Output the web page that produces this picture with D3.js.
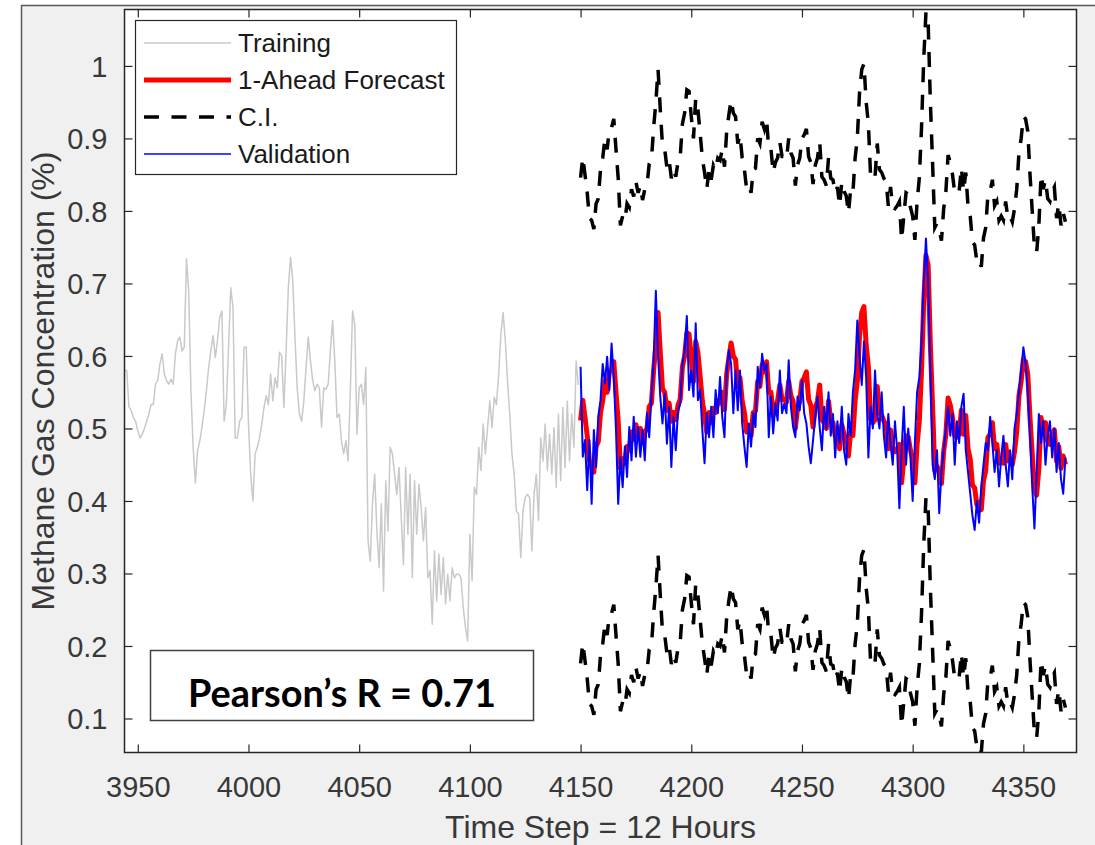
<!DOCTYPE html>
<html>
<head>
<meta charset="utf-8">
<script src="https://cdn.jsdelivr.net/npm/d3@7/dist/d3.min.js"></script>
<style>
  body { margin: 0; background: #ffffff; }
  svg text { font-family: "Liberation Sans", Arial, Helvetica, sans-serif; }
</style>
</head>
<body>
<svg id="chart" width="1095" height="845"></svg>
<script>
// ---- data -------------------------------------------------------------
// Training record, one value per 12-hour step starting at step 3944
const trainingStart = 3944;
const training = [
  0.58, 0.58, 0.53, 0.525, 0.515, 0.51, 0.497, 0.487, 0.492, 0.50,
  0.51, 0.52, 0.533, 0.533, 0.561, 0.566, 0.589, 0.603, 0.575, 0.566,
  0.561, 0.568, 0.561, 0.603, 0.621, 0.626, 0.607, 0.612, 0.734, 0.69,
  0.552, 0.474, 0.425, 0.469, 0.483, 0.502, 0.525, 0.552, 0.584, 0.607,
  0.628, 0.598, 0.621, 0.653, 0.662, 0.51, 0.533, 0.612, 0.694, 0.667,
  0.487, 0.487, 0.51, 0.515, 0.612, 0.612, 0.506, 0.437, 0.40, 0.465,
  0.474, 0.487, 0.506, 0.529, 0.545, 0.533, 0.575, 0.538, 0.570, 0.556,
  0.605, 0.600, 0.529, 0.607, 0.694, 0.736, 0.704, 0.626, 0.556, 0.52,
  0.51, 0.538, 0.584, 0.626, 0.593, 0.566, 0.552, 0.561, 0.556, 0.502,
  0.556, 0.554, 0.561, 0.607, 0.649, 0.593, 0.515, 0.52, 0.483, 0.465,
  0.483, 0.455, 0.552, 0.662, 0.644, 0.492, 0.556, 0.561, 0.533, 0.584,
  0.345, 0.317, 0.396, 0.437, 0.359, 0.308, 0.396, 0.276, 0.428, 0.359,
  0.474, 0.465, 0.437, 0.409, 0.446, 0.377, 0.312, 0.446, 0.354, 0.437,
  0.294, 0.428, 0.354, 0.423, 0.391, 0.345, 0.391, 0.294, 0.304, 0.23,
  0.331, 0.262, 0.327, 0.271, 0.322, 0.258, 0.299, 0.262, 0.308, 0.294,
  0.299, 0.299, 0.294, 0.253, 0.226, 0.207, 0.354, 0.29, 0.419, 0.409,
  0.474, 0.442, 0.506, 0.465, 0.501, 0.538, 0.501, 0.543, 0.533, 0.575,
  0.63, 0.66, 0.621, 0.566, 0.52, 0.465, 0.437, 0.386, 0.382, 0.322,
  0.386, 0.405, 0.409, 0.405, 0.331, 0.409, 0.437, 0.373, 0.487, 0.455,
  0.506, 0.442, 0.492, 0.437, 0.501, 0.419, 0.52, 0.428, 0.529, 0.446,
  0.538, 0.455, 0.52, 0.474, 0.593, 0.56
];

// Held-out record and the one-step-ahead forecast, starting at step 4150
const validationStart = 4150;
const validation = [
  0.585, 0.461, 0.484, 0.415, 0.484, 0.396, 0.498, 0.447, 0.516, 0.539,
  0.589, 0.562, 0.599, 0.553, 0.617, 0.571, 0.498, 0.396, 0.461, 0.419,
  0.475, 0.433, 0.502, 0.456, 0.516, 0.461, 0.502, 0.461, 0.498, 0.456,
  0.521, 0.488, 0.544, 0.594, 0.69, 0.60, 0.544, 0.507, 0.548, 0.479,
  0.53, 0.447, 0.516, 0.47, 0.525, 0.534, 0.589, 0.608, 0.655, 0.553,
  0.58, 0.544, 0.645, 0.539, 0.553, 0.498, 0.452, 0.521, 0.488, 0.53,
  0.488, 0.553, 0.521, 0.571, 0.516, 0.488, 0.58, 0.608, 0.589, 0.521,
  0.58, 0.525, 0.58, 0.507, 0.475, 0.447, 0.507, 0.475, 0.521, 0.502,
  0.585, 0.557, 0.603, 0.58, 0.589, 0.488, 0.544, 0.493, 0.534, 0.511,
  0.58, 0.521, 0.534, 0.521, 0.594, 0.53, 0.502, 0.488, 0.544, 0.525,
  0.566, 0.521, 0.507, 0.475, 0.452, 0.484, 0.516, 0.544, 0.502,
  0.47, 0.53, 0.5, 0.55, 0.49, 0.52, 0.46, 0.51, 0.48, 0.53,
  0.47, 0.45, 0.52, 0.49, 0.55, 0.58, 0.649, 0.6, 0.56, 0.62,
  0.57, 0.46, 0.53, 0.5, 0.58, 0.52, 0.50, 0.55, 0.49, 0.46,
  0.52, 0.48, 0.45, 0.51, 0.47, 0.39, 0.47, 0.53, 0.45, 0.5,
  0.46, 0.40, 0.48, 0.55, 0.57, 0.62, 0.70, 0.762, 0.70, 0.58,
  0.45, 0.43, 0.47, 0.383, 0.44, 0.47, 0.50, 0.53, 0.49, 0.52,
  0.45, 0.51, 0.48, 0.53, 0.548, 0.47, 0.44, 0.41, 0.38, 0.36,
  0.40, 0.37, 0.42, 0.45, 0.48, 0.47, 0.516, 0.48, 0.44, 0.47,
  0.42, 0.46, 0.49, 0.45, 0.42, 0.47, 0.43, 0.5, 0.52, 0.55,
  0.58, 0.612, 0.59, 0.55, 0.49, 0.42, 0.362, 0.44, 0.52, 0.48,
  0.51, 0.45, 0.49, 0.51, 0.46, 0.5, 0.44, 0.48, 0.43, 0.41,
  0.46
];
const forecast = [
  0.511, 0.539, 0.515, 0.49, 0.455, 0.452, 0.44, 0.475, 0.482, 0.522,
  0.538, 0.565, 0.55, 0.578, 0.58, 0.592, 0.55, 0.51, 0.445, 0.458,
  0.452, 0.475, 0.47, 0.495, 0.485, 0.505, 0.49, 0.5, 0.48, 0.495,
  0.5, 0.53, 0.535, 0.58, 0.615, 0.66, 0.605, 0.555, 0.55, 0.525,
  0.535, 0.51, 0.522, 0.512, 0.532, 0.54, 0.585, 0.6, 0.632, 0.63,
  0.595, 0.565, 0.62, 0.605, 0.572, 0.538, 0.518, 0.495, 0.522, 0.508,
  0.528, 0.522, 0.538, 0.535, 0.55, 0.526, 0.575, 0.598, 0.618, 0.6,
  0.595, 0.558, 0.57, 0.538, 0.522, 0.495, 0.5, 0.49, 0.522, 0.524,
  0.565, 0.558, 0.588, 0.578, 0.592, 0.55, 0.55, 0.518, 0.532, 0.538,
  0.56, 0.54, 0.54, 0.536, 0.565, 0.545, 0.538, 0.5, 0.528, 0.538,
  0.565, 0.57, 0.578, 0.54, 0.532, 0.502, 0.528, 0.538, 0.56,
  0.512, 0.508, 0.5, 0.538, 0.51, 0.508, 0.49, 0.498, 0.472, 0.505,
  0.492, 0.486, 0.462, 0.495, 0.49, 0.538, 0.565, 0.628, 0.66, 0.668,
  0.615, 0.585, 0.512, 0.508, 0.512, 0.558, 0.522, 0.518, 0.51, 0.506,
  0.472, 0.498, 0.47, 0.468, 0.472, 0.478, 0.425, 0.458, 0.49, 0.488,
  0.47, 0.458, 0.425, 0.478, 0.51, 0.58, 0.675, 0.739, 0.725, 0.615,
  0.53, 0.442, 0.448, 0.44, 0.424, 0.468, 0.492, 0.542, 0.532, 0.515,
  0.49, 0.488, 0.492, 0.525, 0.492, 0.518, 0.472, 0.458, 0.422, 0.418,
  0.395, 0.398, 0.388, 0.428, 0.442, 0.488, 0.492, 0.508, 0.472, 0.478,
  0.452, 0.458, 0.452, 0.478, 0.455, 0.458, 0.45, 0.468, 0.495, 0.545,
  0.565, 0.595, 0.592, 0.575, 0.515, 0.465, 0.415, 0.408, 0.445, 0.515,
  0.495, 0.508, 0.482, 0.478, 0.492, 0.498, 0.455, 0.475, 0.445, 0.462,
  0.45
];
// Half-width of the confidence band around the forecast
const ciHalfWidth = 0.335;

const xTicks = [3950, 4000, 4050, 4100, 4150, 4200, 4250, 4300, 4350];
const yTicks = [0.1, 0.2, 0.3, 0.4, 0.5, 0.6, 0.7, 0.8, 0.9, 1.0];
const xDomain = [3944, 4374];
const yDomain = [0.0531, 1.0778];
const legendLabels = ["Training", "1-Ahead Forecast", "C.I.", "Validation"];
const xTitle = "Time Step = 12 Hours";
const yTitle = "Methane Gas Concentration (%)";
const pearsonLabel = "Pearson\u2019s R = 0.71";

// ---- layout -----------------------------------------------------------
const plot = { left: 124.5, right: 1076.5, top: 9.5, bottom: 752.5 };
const axisColor = "#262626";
const colors = { training: "#c9c9c9", forecast: "#ff0000", ci: "#000000", validation: "#0000ff" };
const ciDash = "15,12.5";

const svg = d3.select("#chart");

// figure panel
svg.append("rect")
  .attr("x", 21.5).attr("y", 5.5)
  .attr("width", 1200).attr("height", 1000)
  .attr("fill", "#f0f0f0")
  .attr("stroke", "#5a5a5a").attr("stroke-width", 1.5);

const x = d3.scaleLinear().domain(xDomain).range([plot.left, plot.right]);
const y = d3.scaleLinear().domain(yDomain).range([plot.bottom, plot.top]);

// axes background
svg.append("rect")
  .attr("x", plot.left).attr("y", plot.top)
  .attr("width", plot.right - plot.left).attr("height", plot.bottom - plot.top)
  .attr("fill", "#ffffff");

svg.append("clipPath").attr("id", "plot-clip")
  .append("rect")
  .attr("x", plot.left).attr("y", plot.top)
  .attr("width", plot.right - plot.left).attr("height", plot.bottom - plot.top);

const trainingPts = training.map((v, i) => [trainingStart + i, v]);
const validationPts = validation.map((v, i) => [validationStart + i, v]);
const forecastPts = forecast.map((v, i) => [validationStart + i, v]);
const ciUpperPts = forecast.map((v, i) => [validationStart + i, v + ciHalfWidth]);
const ciLowerPts = forecast.map((v, i) => [validationStart + i, v - ciHalfWidth]);

const line = d3.line().x(d => x(d[0])).y(d => y(d[1]));
const series = svg.append("g").attr("clip-path", "url(#plot-clip)");

series.append("path").datum(trainingPts).attr("d", line)
  .attr("fill", "none").attr("stroke", colors.training).attr("stroke-width", 1.5)
  .attr("stroke-linejoin", "round");
series.append("path").datum(forecastPts).attr("d", line)
  .attr("fill", "none").attr("stroke", colors.forecast).attr("stroke-width", 5)
  .attr("stroke-linejoin", "round");
[ciUpperPts, ciLowerPts].forEach(pts => {
  series.append("path").datum(pts).attr("d", line)
    .attr("fill", "none").attr("stroke", colors.ci).attr("stroke-width", 3.5)
    .attr("stroke-dasharray", ciDash);
});
series.append("path").datum(validationPts).attr("d", line)
  .attr("fill", "none").attr("stroke", colors.validation).attr("stroke-width", 2)
  .attr("stroke-linejoin", "round");

// ---- axes (ticks point inward on all four sides) ----------------------
const tickLen = 8;
const xFmt = d3.format("d");
const yFmt = d => String(+d.toFixed(1));

const gBottom = svg.append("g").attr("transform", `translate(0,${plot.bottom})`)
  .call(d3.axisBottom(x).tickValues(xTicks).tickSizeInner(-tickLen).tickSizeOuter(0).tickPadding(24).tickFormat(xFmt));
const gTop = svg.append("g").attr("transform", `translate(0,${plot.top})`)
  .call(d3.axisTop(x).tickValues(xTicks).tickSizeInner(-tickLen).tickSizeOuter(0).tickFormat(""));
const gLeft = svg.append("g").attr("transform", `translate(${plot.left},0)`)
  .call(d3.axisLeft(y).tickValues(yTicks).tickSizeInner(-tickLen).tickSizeOuter(0).tickPadding(17).tickFormat(yFmt));
const gRight = svg.append("g").attr("transform", `translate(${plot.right},0)`)
  .call(d3.axisRight(y).tickValues(yTicks).tickSizeInner(-tickLen).tickSizeOuter(0).tickFormat(""));

[gBottom, gTop, gLeft, gRight].forEach(g => {
  g.select(".domain").remove();
  g.selectAll(".tick line").attr("stroke", axisColor).attr("stroke-width", 1.2);
  g.selectAll(".tick text")
    .attr("fill", "#383838")
    .style("font-size", "29px")
    .style("font-family", '"Liberation Sans", Arial, sans-serif');
});
gLeft.selectAll(".tick text").attr("dy", "0.36em");

// axes box
svg.append("rect")
  .attr("x", plot.left).attr("y", plot.top)
  .attr("width", plot.right - plot.left).attr("height", plot.bottom - plot.top)
  .attr("fill", "none").attr("stroke", axisColor).attr("stroke-width", 1.5);

// axis titles
svg.append("text")
  .attr("x", (plot.left + plot.right) / 2).attr("y", 838)
  .attr("text-anchor", "middle")
  .attr("fill", "#383838").style("font-size", "32px")
  .text(xTitle);
svg.append("text")
  .attr("transform", `translate(54,${(plot.top + plot.bottom) / 2}) rotate(-90)`)
  .attr("text-anchor", "middle")
  .attr("fill", "#383838").style("font-size", "32px")
  .text(yTitle);

// ---- legend -----------------------------------------------------------
const legend = svg.append("g");
legend.append("rect")
  .attr("x", 135.5).attr("y", 20.5).attr("width", 321).attr("height", 154)
  .attr("fill", "#ffffff").attr("stroke", axisColor).attr("stroke-width", 1.2);
const legendStyles = [
  { stroke: colors.training, width: 1.5, dash: null },
  { stroke: colors.forecast, width: 5, dash: null },
  { stroke: colors.ci, width: 3.5, dash: ciDash },
  { stroke: colors.validation, width: 1.5, dash: null }
];
legendLabels.forEach((label, i) => {
  const cy = 43 + i * 37;
  const s = legendStyles[i];
  legend.append("line")
    .attr("x1", 144).attr("x2", 231).attr("y1", cy).attr("y2", cy)
    .attr("stroke", s.stroke).attr("stroke-width", s.width)
    .attr("stroke-dasharray", s.dash);
  legend.append("text")
    .attr("x", 238).attr("y", cy).attr("dy", "0.36em")
    .attr("fill", "#1a1a1a").style("font-size", "26px")
    .text(label);
});

// ---- correlation note -------------------------------------------------
const note = svg.append("g");
note.append("rect")
  .attr("x", 150.5).attr("y", 650.5).attr("width", 383).attr("height", 70)
  .attr("fill", "#ffffff").attr("stroke", "#404040").attr("stroke-width", 1.5);
note.append("text")
  .attr("x", 342).attr("y", 707)
  .attr("text-anchor", "middle")
  .attr("fill", "#000000")
  .style("font-family", "Lato, 'Open Sans', sans-serif")
  .style("font-weight", "bold")
  .style("font-size", "38px")
  .attr("textLength", 308).attr("lengthAdjust", "spacingAndGlyphs")
  .text(pearsonLabel);
</script>
</body>
</html>
